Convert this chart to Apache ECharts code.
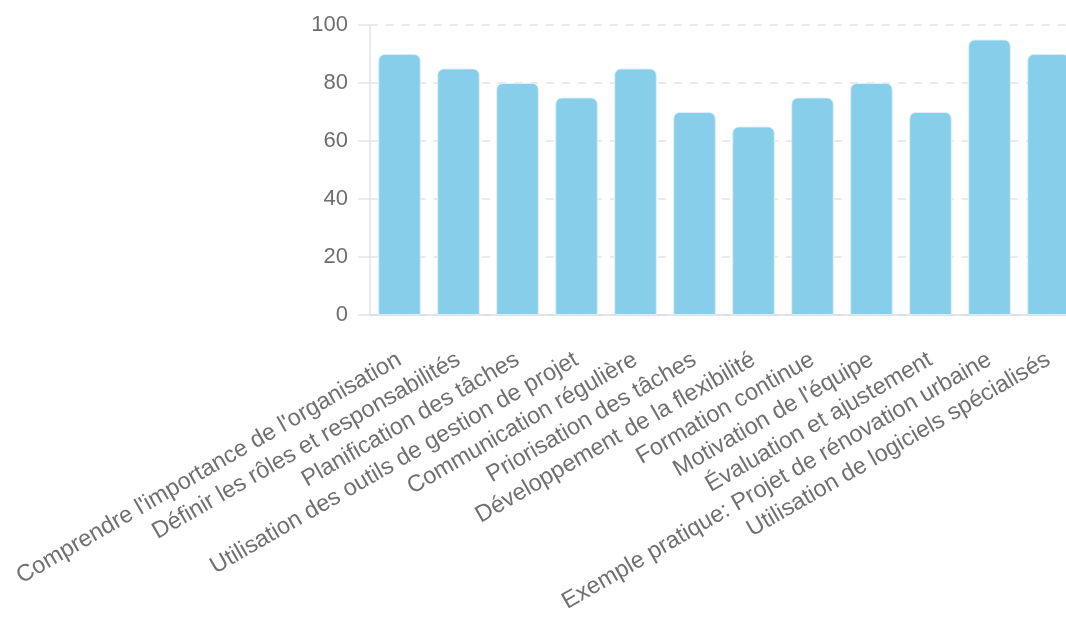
<!DOCTYPE html>
<html>
<head>
<meta charset="utf-8">
<script src="https://cdn.jsdelivr.net/npm/echarts@6/dist/echarts.min.js"></script>
<style>
  html, body { margin: 0; padding: 0; background: #fff; overflow: hidden; }
  #chart { width: 1100px; height: 619px; }
</style>
</head>
<body>
<div id="chart"></div>
<script>
// modules du cours et score attribué à chacun
var categories = [
    "Comprendre l'importance de l'organisation",
    "Définir les rôles et responsabilités",
    "Planification des tâches",
    "Utilisation des outils de gestion de projet",
    "Communication régulière",
    "Priorisation des tâches",
    "Développement de la flexibilité",
    "Formation continue",
    "Motivation de l'équipe",
    "Évaluation et ajustement",
    "Exemple pratique: Projet de rénovation urbaine",
    "Utilisation de logiciels spécialisés"
];
var scores = [90, 85, 80, 75, 85, 70, 65, 75, 80, 70, 95, 90];
var yTicks = [0, 20, 40, 60, 80, 100];

var myChart = echarts.init(document.getElementById("chart"));
myChart.setOption({
    animation: false,
    backgroundColor: '#fff',
    // titre coupé en haut de l'image : seules les jambages dépassent
    title: {
        text: 'Compétences en organisation pour chaque projet',
        left: 120,
        top: -34,
        textStyle: {
            color: '#000',
            fontSize: 30,
            fontWeight: 'bold',
            fontFamily: 'Liberation Sans'
        }
    },
    grid: {
        left: 370,
        right: 22,
        top: 25,
        bottom: 304
    },
    xAxis: {
        type: 'category',
        data: categories,
        axisLine: { lineStyle: { color: '#dcdcdc', width: 1.5 } },
        axisTick: { show: false },
        axisLabel: {
            interval: 0,
            rotate: 30,
            margin: 43,
            color: '#707070',
            fontSize: 23.5,
            fontFamily: 'Liberation Sans'
        }
    },
    yAxis: {
        type: 'value',
        min: yTicks[0],
        max: yTicks[yTicks.length - 1],
        interval: yTicks[1] - yTicks[0],
        axisLine: { show: true, lineStyle: { color: '#e3e3e3', width: 1.5 } },
        axisTick: { show: true, length: 12, lineStyle: { color: '#e3e3e3', width: 1.5 } },
        axisLabel: {
            margin: 22,
            color: '#6e6e6e',
            fontSize: 22,
            fontFamily: 'Liberation Sans'
        },
        splitLine: { lineStyle: { type: [8, 8], color: '#e3e3e3', width: 1.5 } }
    },
    series: [{
        name: 'Score',
        type: 'bar',
        data: scores,
        barWidth: '72%',
        itemStyle: {
            color: '#87ceeb',
            borderRadius: [6, 6, 0, 0],
            borderColor: 'rgba(220,240,250,0.9)',
            borderWidth: 1
        }
    }]
});
</script>
</body>
</html>
